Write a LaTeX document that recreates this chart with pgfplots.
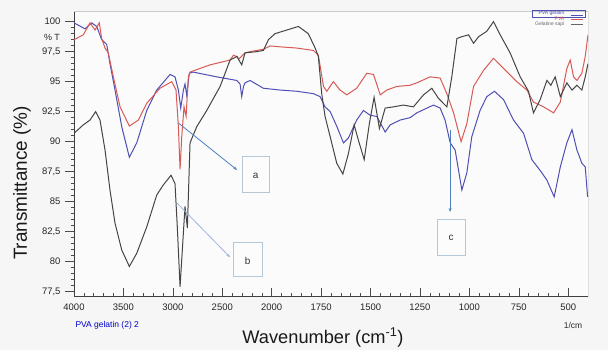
\documentclass[border=0pt]{standalone}
\usepackage{pgfplots}
\pgfplotsset{compat=1.18}
\usepackage{pgfplotstable}
\usepackage{fontspec}
\setmainfont{Liberation Sans}
\usetikzlibrary{arrows.meta}
\definecolor{bluec}{HTML}{4F4FB5}
\definecolor{redc}{HTML}{D85A55}
\definecolor{blackc}{HTML}{454545}
\definecolor{arra}{HTML}{4F80C0}
\definecolor{arrb}{HTML}{9DB4E0}
\definecolor{boxc}{HTML}{B5C8D8}
\definecolor{pagebg}{HTML}{F6F6F6}

\pgfplotstableread{
w t
4000 99.9
3889 99.4
3821 99.9
3770 99.6
3720 98.5
3669 98.1
3636 96.5
3585 94.3
3517 91.25
3440 88.7
3365 89.9
3264 92.6
3163 94.3
3028 95.6
2978 95.4
2944 94.3
2920 92.8
2893 94.3
2877 94.8
2860 93.9
2833 95.7
2795 95.8
2556 95.4
2421 95.2
2353 95.1
2320 94.8
2303 93.75
2285 94.6
2270 94.9
2219 95.1
2084 94.45
1957 94.3
1873 94.2
1789 94.0
1755 93.75
1730 92.9
1704 92.5
1670 91.25
1637 89.9
1612 90.3
1570 91.8
1536 92.6
1502 92.2
1468 92.1
1426 90.8
1401 91.4
1350 91.8
1300 92.0
1266 92.4
1182 93.05
1148 92.8
1123 91.8
1097 89.9
1072 89.3
1038 85.97
1013 87.4
988 90.4
946 92.6
912 93.75
873 94.2
827 93.5
777 91.8
726 90.7
684 88.5
642 87.6
608 86.8
571 85.4
540 87.9
507 89.9
481 91.0
456 89.3
431 88.2
414 87.9
402 85.4
}\bluetab

\pgfplotstableread{
w t
4000 98.5
3906 98.9
3838 99.9
3787 99.3
3744 99.9
3720 98.6
3686 97.8
3653 97.4
3602 95.4
3534 92.9
3440 91.3
3349 91.8
3264 93.2
3130 94.45
3011 95.0
2968 94.3
2944 91.25
2927 87.7
2910 90.4
2887 92.9
2866 92.1
2843 95.4
2826 95.8
2623 96.4
2421 96.8
2387 97.2
2353 97.1
2330 96.9
2270 97.4
2219 97.5
2084 97.7
2016 97.98
1957 97.9
1873 97.8
1789 97.6
1764 97.2
1738 94.6
1721 94.2
1688 95.0
1654 94.3
1620 93.9
1570 94.45
1519 95.7
1485 95.6
1451 93.9
1418 94.3
1367 94.6
1300 94.7
1266 94.9
1199 95.4
1148 95.3
1114 94.0
1080 92.4
1042 90.0
1013 91.5
979 94.6
928 95.95
878 96.95
827 96.1
760 95.0
709 94.3
676 93.3
625 92.9
574 92.4
540 93.3
507 96.1
490 96.8
473 95.4
456 95.1
431 95.7
414 97.1
400 98.9
}\redtab

\pgfplotstableread{
w t
4000 90.7
3906 91.4
3838 91.8
3781 92.5
3737 91.8
3686 89.3
3636 85.97
3585 83.2
3517 80.97
3440 79.6
3365 80.7
3264 82.9
3163 85.55
3096 86.4
3018 87.2
2978 86.5
2955 82.9
2927 77.9
2900 81.5
2877 84.6
2853 82.8
2826 89.9
2758 91.25
2657 92.6
2522 94.6
2421 96.8
2353 97.1
2303 96.4
2270 97.4
2152 97.5
2084 97.6
2033 98.5
1983 99.0
1924 99.3
1865 99.6
1815 99.0
1780 97.8
1764 97.1
1747 94.0
1730 92.1
1704 90.4
1671 88.2
1640 87.3
1612 89.0
1583 91.4
1561 90.1
1532 88.5
1506 91.5
1482 93.7
1455 91.1
1426 92.8
1384 92.9
1334 93.05
1283 92.9
1232 93.9
1190 94.45
1156 93.6
1114 92.9
1089 95.4
1063 98.6
1038 98.75
1004 98.9
979 98.2
953 98.75
912 99.2
878 100.0
844 98.9
794 97.4
743 95.4
701 94.2
676 92.4
642 93.5
608 95.1
588 94.7
566 95.4
540 93.75
507 94.9
481 94.3
456 94.7
431 94.3
414 95.4
400 96.5
}\blacktab

\begin{document}
\begin{tikzpicture}
\fill[pagebg] (0,0) rectangle (608bp,350bp);
\useasboundingbox (0,0) rectangle (608bp,350bp);
\begin{axis}[
  at={(74bp,53.3bp)}, anchor=south west,
  width=514bp, height=285bp, scale only axis,
  xmin=0, xmax=10.4, ymin=77.08, ymax=100.83,
  axis background/.style={fill=white!60!pagebg},
  axis x line*=bottom, axis y line*=left,
  axis line style={draw=black!75, line width=0.8bp},
  xtick={0,1,2,3,4,5,6,7,8,9,10},
  xticklabels={4000,3500,3000,2500,2000,1750,1500,1250,1000,750,500},
  minor x tick num=4,
  x tick style={black!70, line width=0.6bp},
  xtick align=inside,
  ytick={77.5,80,82.5,85,87.5,90,92.5,95,97.5,100},
  minor y tick num=4,
  ytick align=outside,
  y tick style={black!70, line width=0.6bp},
  major tick length=9bp, minor tick length=3.5bp,
  tick label style={font=\fontsize{9.5}{10}\selectfont, text=black!85},
  xticklabel style={yshift=-4bp},
  yticklabel style={xshift=-1bp},
  /pgf/number format/.cd, use comma, 1000 sep={}, assume math mode=true,
]
\addplot[bluec, line width=1bp] table[x expr={\thisrow{w}>=2000 ? (4000-\thisrow{w})/500 : 4+(2000-\thisrow{w})/250}, y=t] {\bluetab};
\addplot[redc, line width=1bp] table[x expr={\thisrow{w}>=2000 ? (4000-\thisrow{w})/500 : 4+(2000-\thisrow{w})/250}, y=t] {\redtab};
\addplot[blackc, line width=1bp] table[x expr={\thisrow{w}>=2000 ? (4000-\thisrow{w})/500 : 4+(2000-\thisrow{w})/250}, y=t] {\blacktab};
% annotations
\draw[arra, line width=0.8bp, -{Stealth[length=4bp]}] (axis cs:2.11,91.56) -- (axis cs:3.30,87.64);
\draw[arrb, line width=0.8bp, -{Stealth[length=4bp]}] (axis cs:2.09,84.86) -- (axis cs:3.16,80.36);
\draw[arra, line width=0.8bp, -{Stealth[length=4bp]}] (axis cs:7.61,90.98) -- (axis cs:7.61,84.14);
\draw[boxc, line width=0.8bp, fill=white!70!pagebg] (axis cs:3.40,88.73) rectangle (axis cs:3.95,85.73);
\draw[boxc, line width=0.8bp, fill=white!70!pagebg] (axis cs:3.22,81.64) rectangle (axis cs:3.81,78.73);
\draw[boxc, line width=0.8bp, fill=white!70!pagebg] (axis cs:7.35,83.56) rectangle (axis cs:7.91,80.56);
\node[font=\fontsize{10}{10}\selectfont, text=black!80] at (axis cs:3.675,87.15) {a};
\node[font=\fontsize{10}{10}\selectfont, text=black!80] at (axis cs:3.515,80.1) {b};
\node[font=\fontsize{10}{10}\selectfont, text=black!80] at (axis cs:7.63,81.95) {c};
% right and top border
\draw[black!70, line width=1bp] (rel axis cs:1,0) -- (rel axis cs:1,1);
\draw[black!20, line width=0.8bp] (rel axis cs:0,1) -- (rel axis cs:1,1);
\end{axis}
% labels
\node[rotate=90, font=\fontsize{19}{19}\selectfont, text=black!90] at (22bp,167bp) {Transmittance (\%)};
\node[font=\fontsize{18.3}{18}\selectfont, text=black!90] at (323bp,12.5bp) {Wavenumber (cm\textsuperscript{-1})};
\node[font=\fontsize{9}{9}\selectfont, text=black!85] at (52bp,313bp) {\% T};
\node[anchor=west, font=\fontsize{8.5}{9}\selectfont, text=blue!80!black] at (72bp,25bp) {PVA gelatin (2) 2};
\node[font=\fontsize{8.5}{9}\selectfont, text=black!85] at (573bp,25bp) {1/cm};
% legend
\draw[bluec, line width=0.6bp] (532bp,339.5bp) rectangle (585bp,333bp);
\node[anchor=east, font=\fontsize{5}{5}\selectfont, text=bluec, inner sep=0.5bp] at (565bp,336.3bp) {PVA gelatin};
\draw[bluec, line width=0.8bp] (571bp,335bp) -- (583bp,335bp);
\node[anchor=east, font=\fontsize{5}{5}\selectfont, text=redc, inner sep=0.5bp] at (565bp,331bp) {PVA};
\draw[redc, line width=0.8bp] (571bp,331bp) -- (583bp,331bp);
\node[anchor=east, font=\fontsize{5}{5}\selectfont, text=black!60, inner sep=0.5bp] at (565bp,326bp) {Gelatine sapi};
\draw[black!60, line width=0.8bp] (571bp,326bp) -- (583bp,326bp);
\end{tikzpicture}
\end{document}
